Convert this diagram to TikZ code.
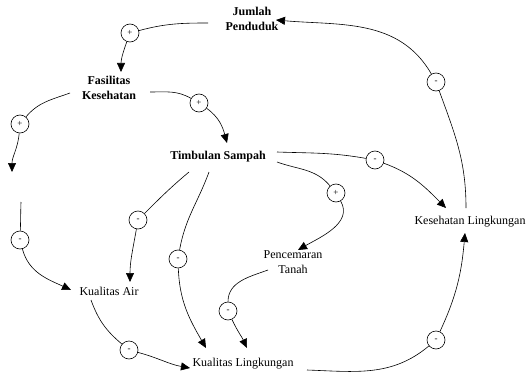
\documentclass[tikz,border=0pt]{standalone}
\usepackage{fontspec}
\setmainfont{Liberation Serif}
\usetikzlibrary{arrows.meta}
\newcommand{\polneg}{\raisebox{-1.5pt}{-}}
\begin{document}
\begin{tikzpicture}[x=1pt,y=1pt,
  var/.style={inner sep=0pt,align=center,font=\fontsize{12}{15}\selectfont},
  bvar/.style={var,font=\fontsize{12}{15}\selectfont\bfseries},
  pol/.style={circle,draw,fill=white,minimum size=18pt,inner sep=0pt,line width=0.6pt,font=\fontsize{9}{9}\selectfont},
  link/.style={line width=0.6pt},
  arr/.style={link,-{Triangle[length=9pt,width=8pt]}}]
\useasboundingbox (0,0) rectangle (527,373);
% variables
\node[bvar] (jp) at (252,354) {Jumlah\\Penduduk};
\node[bvar] (fk) at (109,285) {Fasilitas\\Kesehatan};
\node[bvar] (ts) at (218,216) {Timbulan Sampah};
\node[var] (ka) at (109,82) {Kualitas Air};
\node[var] (kl) at (243,9) {Kualitas Lingkungan};
\node[var] (pt) at (293,111) {Pencemaran\\Tanah};
\node[var] (kesl) at (470,151) {Kesehatan Lingkungan};
% end points
\coordinate (s1) at (208,350); \coordinate (e1) at (121,301);
\coordinate (s2) at (150,281); \coordinate (e2) at (227,230);
\coordinate (s3) at (70,280);  \coordinate (e3) at (12,201);
\coordinate (s4) at (21,171);  \coordinate (e4) at (71,83);
\coordinate (s5) at (189,201); \coordinate (e5) at (130,91);
\coordinate (s6) at (209,201); \coordinate (e6) at (206,25);
\coordinate (s7) at (277,221); \coordinate (e7) at (446,165);
\coordinate (s8) at (277,211); \coordinate (e8) at (298,123);
\coordinate (s9) at (268,103); \coordinate (e9) at (247,25);
\coordinate (s10) at (91,73);  \coordinate (e10) at (190,5);
\coordinate (s11) at (307,3);  \coordinate (e11) at (465,140);
\coordinate (s12) at (466,165); \coordinate (e12) at (276,353);
% polarity circles
\node[pol] (c1) at (130,340) {+};
\node[pol] (c2) at (199,270) {+};
\node[pol] (c3) at (20,249) {+};
\node[pol] (c4) at (20,133) {\polneg};
\node[pol] (c5) at (138,153) {\polneg};
\node[pol] (c6) at (178,114) {\polneg};
\node[pol] (c7) at (375,213) {\polneg};
\node[pol] (c8) at (336,180) {+};
\node[pol] (c9) at (228,62) {\polneg};
\node[pol] (c10) at (129,23) {\polneg};
\node[pol] (c11) at (436,33) {\polneg};
\node[pol] (c12) at (436,291) {\polneg};
% links
\draw[link] (s1) to[out=180,in=15] (c1);
\draw[arr] (c1) to[out=250,in=90] (e1);
\draw[link] (s2) to[out=0,in=150] (c2);
\draw[arr] (c2) to[out=-35,in=105] (e2);
\draw[link] (s3) to[out=200,in=50] (c3);
\draw[arr] (c3) to[out=265,in=90] (e3);
\draw[link] (s4) to[out=-92,in=88] (c4);
\draw[arr] (c4) to[out=-75,in=155] (e4);
\draw[link] (s5) to[out=220,in=45] (c5);
\draw[arr] (c5) to[out=260,in=90] (e5);
\draw[link] (s6) to[out=250,in=80] (c6);
\draw[arr] (c6) to[out=-88,in=120] (e6);
\draw[link] (s7) to[out=-2,in=170] (c7);
\draw[arr] (c7) to[out=-20,in=135] (e7);
\draw[link] (s8) to[out=-20,in=130] (c8);
\draw[arr] (c8) to[out=-60,in=30] (e8);
\draw[link] (s9) to[out=200,in=90] (c9);
\draw[arr] (c9) to[out=-65,in=115] (e9);
\draw[link] (s10) to[out=-70,in=140] (c10);
\draw[arr] (c10) to[out=-15,in=170] (e10);
\draw[link] (s11) to[out=-2,in=220] (c11);
\draw[arr] (c11) to[out=65,in=-95] (e11);
\draw[link] (s12) to[out=90,in=-70] (c12);
\draw[arr] (c12) to[out=120,in=-5] (e12);
\end{tikzpicture}
\end{document}
